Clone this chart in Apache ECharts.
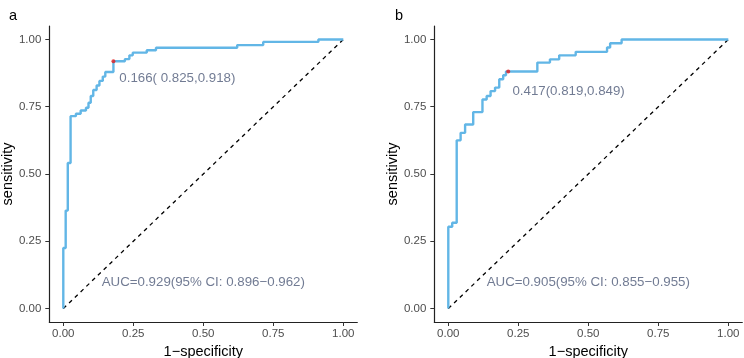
<!DOCTYPE html>
<html><head><meta charset="utf-8">
<script src="https://cdn.jsdelivr.net/npm/echarts@6/dist/echarts.min.js"></script>
<style>html,body{margin:0;padding:0;background:#fff}#c{width:744px;height:358px}</style>
</head><body><div id="c"></div>
<script>
// Panel a ROC curve corners (1-specificity, sensitivity)
const aFpr = [0, 0, 0.0085, 0.016, 0.026, 0.045, 0.062, 0.081, 0.09, 0.098, 0.107, 0.119, 0.129, 0.141, 0.15, 0.179, 0.22, 0.236, 0.248, 0.298, 0.331, 0.621, 0.714, 0.911, 1.0];
const aTpr = [0, 0.225, 0.364, 0.541, 0.715, 0.724, 0.736, 0.746, 0.765, 0.79, 0.812, 0.829, 0.846, 0.862, 0.879, 0.919, 0.927, 0.941, 0.951, 0.96, 0.969, 0.979, 0.991, 1.0, 1.0];
// Panel b ROC curve corners
const bFpr = [0, 0, 0.014, 0.03, 0.044, 0.06, 0.089, 0.122, 0.137, 0.151, 0.167, 0.182, 0.196, 0.206, 0.318, 0.363, 0.396, 0.455, 0.567, 0.578, 0.619, 1.0];
const bTpr = [0, 0.304, 0.319, 0.625, 0.653, 0.684, 0.73, 0.777, 0.79, 0.808, 0.821, 0.852, 0.867, 0.881, 0.914, 0.926, 0.941, 0.954, 0.97, 0.986, 1.0, 1.0];
// Cut-off points
const aCut = [0.179, 0.919];
const bCut = [0.214, 0.881];
const aCutLabel = "0.166( 0.825,0.918)";
const bCutLabel = "0.417(0.819,0.849)";
const aAucLabel = "AUC=0.929(95% CI: 0.896\u22120.962)";
const bAucLabel = "AUC=0.905(95% CI: 0.855\u22120.955)";
const tickValues = [0, 0.25, 0.5, 0.75, 1];
const panelNames = ["a", "b"];

const FONT = "Liberation Sans";
const zip = (x, y) => x.map((v, i) => [v, y[i]]);

function axis(isX, idx) {
  return {
    type: 'value', gridIndex: idx, min: -0.05, max: 1.05,
    name: isX ? '1\u2212specificity' : 'sensitivity',
    nameLocation: 'middle', nameGap: isX ? 16 : 28,
    nameTextStyle: {color: '#000', fontSize: 14.5, fontFamily: FONT},
    splitLine: {show: false},
    axisLine: {show: true, onZero: false, lineStyle: {color: '#222', width: 1.2}},
    axisTick: {show: true, length: 4, customValues: tickValues, lineStyle: {color: '#333', width: 1}},
    axisLabel: {customValues: tickValues, color: '#4D4D4D', fontSize: 11.5, fontFamily: FONT,
      margin: isX ? 6 : 8, formatter: v => v.toFixed(2)}
  };
}

function panel(idx, fpr, tpr, cut, cutLabel, cutPos, aucLabel) {
  return [
    {type: 'line', xAxisIndex: idx, yAxisIndex: idx, data: [[0,0],[1,1]], symbol: 'none', silent: true,
      lineStyle: {color: '#000', width: 1.3, type: [4, 4]}},
    {type: 'line', xAxisIndex: idx, yAxisIndex: idx, data: zip(fpr, tpr), step: 'end', symbol: 'none',
      lineStyle: {color: '#62B6E6', width: 2.4}},
    {type: 'scatter', xAxisIndex: idx, yAxisIndex: idx, data: [cut], symbolSize: 4, z: 10,
      itemStyle: {color: '#E41A1C'}},
    {type: 'scatter', xAxisIndex: idx, yAxisIndex: idx, symbolSize: 0, silent: true,
      data: [{value: cutPos, label: {show: true, position: 'right', distance: 0, formatter: cutLabel,
        color: '#4D5A78', fontSize: 13.3, fontFamily: FONT}}]},
    {type: 'scatter', xAxisIndex: idx, yAxisIndex: idx, symbolSize: 0, silent: true,
      data: [{value: [0.5, 0.098], label: {show: true, position: 'inside', formatter: aucLabel,
        color: '#4D5A78', fontSize: 13.3, fontFamily: FONT}}]}
  ];
}

const chart = echarts.init(document.getElementById('c'), null, {renderer: 'canvas'});
chart.setOption({
  animation: false,
  backgroundColor: '#fff',
  title: [
    {text: panelNames[0], left: 4, top: 3, textStyle: {fontSize: 14.5, fontWeight: 'normal', color: '#000', fontFamily: FONT}},
    {text: panelNames[1], left: 390, top: 3, textStyle: {fontSize: 14.5, fontWeight: 'normal', color: '#000', fontFamily: FONT}}
  ],
  grid: [
    {left: 49.3, top: 26, width: 308, height: 296, outerBoundsMode: 'none', containLabel: false},
    {left: 434.3, top: 26, width: 308, height: 296, outerBoundsMode: 'none', containLabel: false}
  ],
  xAxis: [axis(true, 0), axis(true, 1)],
  yAxis: [axis(false, 0), axis(false, 1)],
  series: [
    ...panel(0, aFpr, aTpr, aCut, aCutLabel, [0.2, 0.856], aAucLabel),
    ...panel(1, bFpr, bTpr, bCut, bCutLabel, [0.229, 0.808], bAucLabel)
  ]
});
</script></body></html>
